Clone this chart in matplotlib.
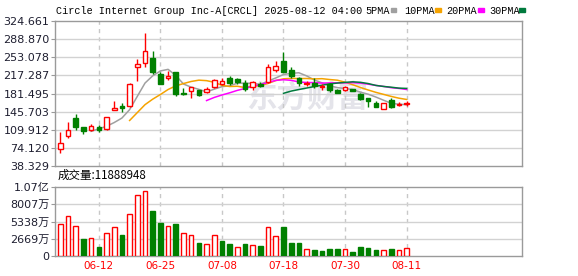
import numpy as np
import pandas as pd
import matplotlib
matplotlib.use("Agg")
import matplotlib.pyplot as plt
from matplotlib.patches import Rectangle

# ---- data ----
dates = ["06-05", "06-06", "06-09", "06-10", "06-11", "06-12", "06-13", "06-16",
         "06-17", "06-18", "06-20", "06-23", "06-24", "06-25", "06-26", "06-27",
         "06-30", "07-01", "07-02", "07-03", "07-07", "07-08", "07-09", "07-10",
         "07-11", "07-14", "07-15", "07-16", "07-17", "07-18", "07-21", "07-22",
         "07-23", "07-24", "07-25", "07-28", "07-29", "07-30", "07-31", "08-01",
         "08-04", "08-05", "08-06", "08-07", "08-08", "08-11"]

opens = [71.3, 98.2, 132.5, 114.8, 109.4, 115.9, 110.8, 149.5, 157.4, 156.8,
         233.2, 241.1, 252.2, 220.0, 211.5, 223.4, 183.1, 186.4, 187.8, 184.5,
         194.9, 200.9, 211.5, 209.5, 202.8, 194.9, 200.2, 204.8, 227.3, 246.3,
         227.9, 211.5, 199.7, 202.8, 194.5, 199.7, 189.0, 187.8, 190.4, 179.9,
         173.2, 162.1, 151.5, 168.7, 158.8, 161.4]
highs = [106.0, 124.6, 140.4, 115.9, 121.3, 119.3, 135.0, 166.7, 163.3, 201.6,
         249.0, 301.6, 265.4, 224.5, 225.9, 224.5, 193.0, 194.9, 189.0, 194.9,
         210.1, 211.5, 216.1, 211.5, 207.6, 206.8, 204.8, 239.7, 246.3, 264.0,
         233.2, 214.1, 206.8, 211.5, 200.2, 202.8, 190.4, 196.3, 190.4, 183.1,
         173.2, 166.7, 162.7, 172.0, 164.1, 166.7]
lows = [64.6, 94.2, 109.4, 102.1, 107.4, 106.1, 110.0, 148.3, 145.6, 155.4,
        206.8, 234.4, 219.4, 199.7, 207.6, 177.2, 178.5, 173.2, 176.6, 183.1,
        193.0, 198.3, 198.3, 200.9, 186.4, 188.4, 194.9, 202.8, 223.4, 223.4,
        211.5, 196.9, 196.9, 191.8, 188.4, 183.9, 182.5, 186.4, 185.8, 168.7,
        155.4, 155.4, 151.5, 153.5, 156.8, 157.4]
closes = [84.3, 109.4, 115.9, 108.0, 116.7, 108.8, 134.5, 152.9, 152.3, 199.7,
          240.3, 265.4, 224.5, 200.2, 215.5, 180.0, 180.8, 193.7, 178.5, 189.8,
          207.6, 205.6, 201.6, 204.8, 190.4, 204.8, 196.3, 233.8, 235.8, 224.5,
          216.1, 202.0, 203.0, 196.0, 195.5, 187.8, 183.1, 194.3, 185.8, 170.0,
          167.3, 155.4, 162.7, 155.4, 160.8, 162.7]
# volume, in units of 10k shares (万)
volumes = [4950, 6200, 4640, 2610, 2710, 1360, 3500, 4430, 3230, 6460,
           9480, 10100, 6980, 5100, 4640, 4950, 3540, 3230, 2030, 1830,
           3180, 2290, 1830, 1310, 1830, 1670, 1560, 4430, 3030, 4480,
           2030, 2030, 1000, 890, 730, 1050, 1050, 1000, 580, 1360,
           1200, 890, 840, 1050, 840, 1188.8948]

price_ticks = [38.329, 74.120, 109.912, 145.703, 181.495, 217.287, 253.078, 288.870, 324.661]
vol_ticks = [0, 2669, 5338, 8007, 10676]
vol_tick_labels = ["0", "2669万", "5338万", "8007万", "1.07亿"]
date_ticks = ["06-12", "06-25", "07-08", "07-18", "07-30", "08-11"]

ma_periods = [5, 10, 20, 30]
ma_colors = ["#a0a0a0", "#f5a300", "#ff00ff", "#007a3d"]
ma_names = ["5PMA", "10PMA", "20PMA", "30PMA"]

title = "Circle Internet Group Inc-A[CRCL] 2025-08-12 04:00"
vol_title = "成交量:11888948"

RED = "#ff0000"
GREEN = "#008000"
GRID = "#d2d2d2"
FRAME = "#9a9a9a"

W, H = 578, 276
def fx(x): return x / W
def fy(y): return 1 - y / H

fig = plt.figure(figsize=(W / 100, H / 100), dpi=100)
ax = fig.add_axes([fx(55), fy(166), (522 - 55) / W, (166 - 21) / H])
axv = fig.add_axes([fx(55), fy(255.7), (522 - 55) / W, (255.7 - 187.3) / H])

x = np.arange(len(dates))
o = np.array(opens); c = np.array(closes)
h = np.array(highs); l = np.array(lows)
up = c >= o
cols = np.where(up, RED, GREEN)

# ---- candles ----
ax.vlines(x, l, h, colors=cols, linewidth=1, zorder=3)
body_lo = np.minimum(o, c)
body_h = np.maximum(np.abs(c - o), 0.3)
ax.bar(x, body_h, bottom=body_lo, width=0.6,
       facecolor=np.where(up, "white", GREEN), edgecolor=cols,
       linewidth=1, zorder=4)

# ---- moving averages ----
s = pd.Series(closes)
for n, col in zip(ma_periods, ma_colors):
    ax.plot(x, s.rolling(n).mean(), color=col, linewidth=1.1, zorder=2)

# watermark
ax.text(0.54, 0.47, "东方财富", transform=ax.transAxes, ha="center", va="center",
        fontsize=22, fontweight="bold", color="#e4e4ea",
        family=["Noto Sans CJK SC", "DejaVu Sans"], zorder=0)

# ---- volume ----
prev = np.concatenate([[o[0]], c[:-1]])
vcols = np.where(c >= prev, RED, GREEN)
vup = c >= prev
axv.bar(x, volumes, width=0.6, facecolor=np.where(vup, "white", GREEN),
        edgecolor=vcols, linewidth=1, zorder=3)

tick_pos = [dates.index(d) for d in date_ticks]
for a in (ax, axv):
    a.set_xlim(-0.7, 60.0)
    a.set_xticks(tick_pos)
    for sp in a.spines.values():
        sp.set_color(FRAME)
        sp.set_linewidth(1)
    for t in tick_pos:
        a.axvline(t, color="#c8c8c8", linewidth=1, dashes=(3, 3), zorder=1)
    a.tick_params(axis="y", length=3, color=FRAME, labelsize=8, labelcolor="#1e1e30", pad=1)
    a.tick_params(axis="x", length=0)

ax.set_ylim(price_ticks[0], price_ticks[-1])
ax.set_yticks(price_ticks)
ax.set_yticklabels([f"{v:.3f}" for v in price_ticks])
for v in price_ticks[1:-1]:
    ax.axhline(v, color=GRID, linewidth=1, zorder=1)
ax.set_xticklabels([])

axv.set_ylim(0, vol_ticks[-1])
axv.set_yticks(vol_ticks)
axv.set_yticklabels(vol_tick_labels, family=["DejaVu Sans", "Noto Sans CJK SC"])
for v in vol_ticks[1:-1]:
    axv.axhline(v, color=GRID, linewidth=1, zorder=1)
axv.set_xticklabels(date_ticks, color=RED, fontsize=7.5)
axv.tick_params(axis="x", pad=4)

# ---- header ----
mono = ["Liberation Mono", "DejaVu Sans Mono"]
fig.text(fx(55.6), fy(14), title, fontsize=7.3, family=mono, va="baseline", ha="left")
name_x = [365, 404, 446, 489]
sq_x = [390.5, 435, 478, 519]
for name, col, nx, sx in zip(ma_names, ma_colors, name_x, sq_x):
    fig.text(fx(nx), fy(14), name, fontsize=7.3, family=mono, va="baseline", ha="left")
    fig.add_artist(Rectangle((fx(sx), fy(12)), 5.5 / W, 3.8 / H,
                             transform=fig.transFigure, color=col))

fig.text(fx(58), fy(175), vol_title, fontsize=8.3, va="center", ha="left",
         family=["Noto Sans CJK SC", "DejaVu Sans"])

fig.savefig("out.png", dpi=100)
